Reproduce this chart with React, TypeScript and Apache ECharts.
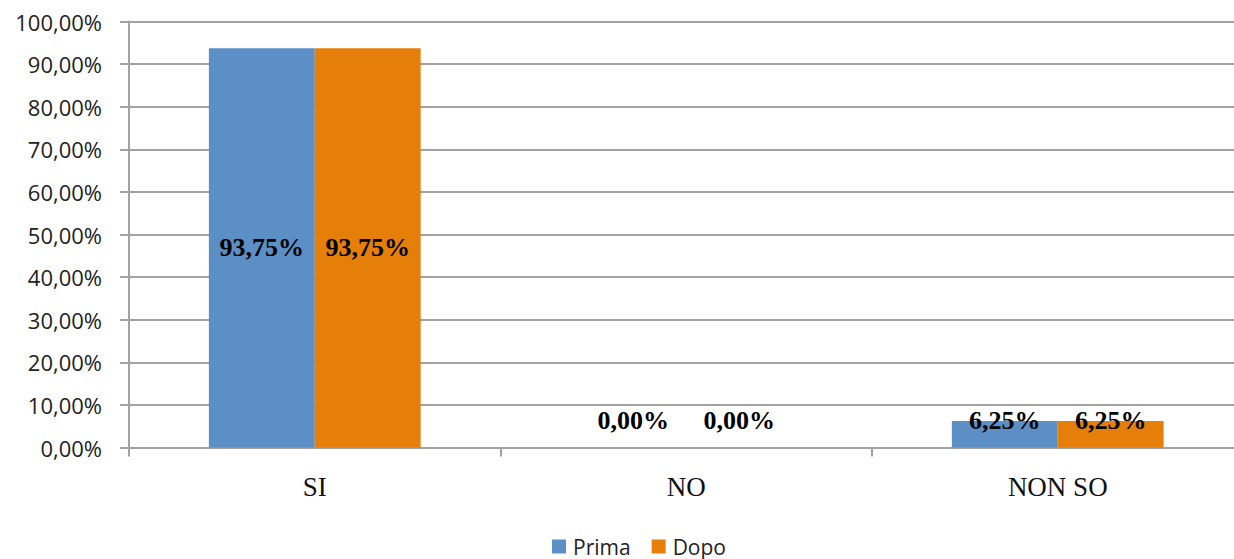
import React, { useEffect, useRef } from "react";
import * as echarts from "echarts";

// Survey answers before and after, as percentages
const categories = ["SI", "NO", "NON SO"];
const seriesNames = ["Prima", "Dopo"];
const primaValues = [93.75, 0, 6.25];
const dopoValues = [93.75, 0, 6.25];
const colors = ["#5B8FC6", "#E67E0A"];

const GRID_GRAY = "#A2A2A2";

const pct = (v: number) => v.toFixed(2).replace(".", ",") + "%";

// Small bars cannot hold their label in the middle, so lift it above the baseline
const toData = (values: number[]) =>
  values.map((v) => ({
    value: v,
    label:
      v < 15
        ? { position: "insideBottom" as const, distance: 14 }
        : { position: "inside" as const },
  }));

export default function App() {
  const ref = useRef<HTMLDivElement>(null);

  useEffect(() => {
    document.body.style.margin = "0";
    if (!ref.current) return;
    const chart = echarts.init(ref.current, null, { renderer: "svg" });
    const labelStyle = {
      show: true,
      formatter: (p: any) => pct(p.value),
      fontFamily: "Liberation Serif",
      fontWeight: "bold" as const,
      fontSize: 26,
      color: "#000",
    };
    chart.setOption({
      animation: false,
      backgroundColor: "#fff",
      // the plot runs a little past the right edge of the visible frame
      grid: { left: 129, top: 21.5, bottom: 111.5, right: 0.5, containLabel: false },
      legend: {
        data: seriesNames,
        left: 547,
        top: 531,
        icon: "rect",
        itemWidth: 14,
        itemHeight: 14,
        itemGap: 21,
        textStyle: { fontFamily: "Open Sans", fontSize: 21, color: "#222", padding: [0, 0, 0, 2] },
      },
      xAxis: {
        type: "category",
        data: categories,
        axisLine: { lineStyle: { color: GRID_GRAY, width: 2 } },
        axisTick: { show: true, length: 9, lineStyle: { color: GRID_GRAY, width: 2 } },
        axisLabel: {
          margin: 26,
          fontFamily: "Liberation Serif",
          fontSize: 27,
          color: "#111",
        },
      },
      yAxis: {
        type: "value",
        min: 0,
        max: 100,
        interval: 10,
        axisLine: { show: true, lineStyle: { color: GRID_GRAY, width: 2 } },
        axisTick: { show: true, length: 9, lineStyle: { color: GRID_GRAY, width: 2 } },
        splitLine: { lineStyle: { color: GRID_GRAY, width: 2 } },
        axisLabel: {
          margin: 27,
          formatter: (v: number) => pct(v),
          fontFamily: "Open Sans",
          fontSize: 22,
          color: "#222",
        },
      },
      series: [
        {
          name: seriesNames[0],
          type: "bar",
          data: toData(primaValues),
          itemStyle: { color: colors[0] },
          barGap: "0%",
          barCategoryGap: "43%",
          label: labelStyle,
        },
        {
          name: seriesNames[1],
          type: "bar",
          data: toData(dopoValues),
          itemStyle: { color: colors[1] },
          barGap: "0%",
          barCategoryGap: "43%",
          label: labelStyle,
        },
      ],
    });
    return () => chart.dispose();
  }, []);

  return (
    <div style={{ width: 1234, height: 559, overflow: "hidden" }}>
      <div ref={ref} style={{ width: 1244, height: 559 }} />
    </div>
  );
}
